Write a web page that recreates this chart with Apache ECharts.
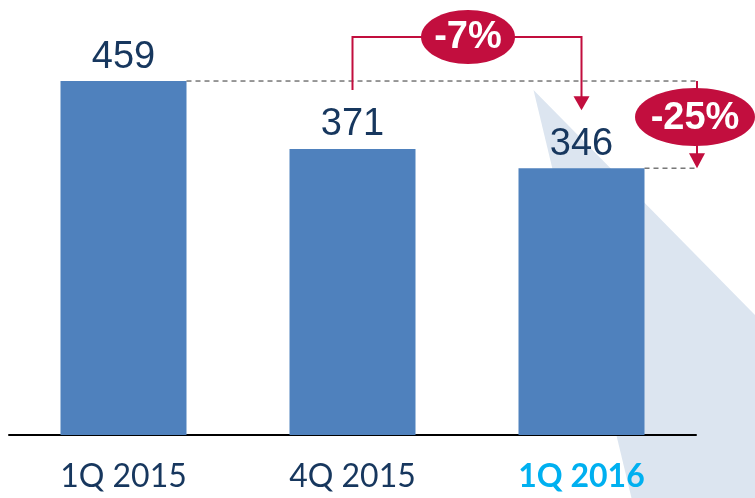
<!DOCTYPE html>
<html><head><meta charset="utf-8">
<script src="https://cdn.jsdelivr.net/npm/echarts@6/dist/echarts.min.js"></script>
<style>html,body{margin:0;padding:0;background:#fff;}#c{width:755px;height:498px;}</style>
</head><body><div id="c"></div>
<script>
const categories = ['1Q 2015', '4Q 2015', '1Q 2016'];
const values = [459, 371, 346];
const changeShort = '-7%';
const changeLong = '-25%';

const navy = '#17375e';
const red = '#c20e3e';
const chart = echarts.init(document.getElementById('c'), null, {renderer: 'canvas'});
chart.setOption({
  animation: false,
  grid: {left: 9, width: 687, top: 49.4, height: 385.6},
  xAxis: {
    type: 'category', data: categories,
    axisLine: {lineStyle: {color: '#000', width: 2}},
    axisTick: {show: false},
    axisLabel: {
      interval: 0, hideOverlap: false,
      margin: 26, fontSize: 32, fontFamily: 'Lato', color: navy,
      formatter: function (v, i) { return i === 2 ? '{hl|' + v + '}' : v; },
      rich: {hl: {fontSize: 32, fontFamily: 'Lato', fontWeight: 'bold', color: '#00b0f0'}}
    }
  },
  yAxis: {type: 'value', min: 0, max: 500, show: false, splitLine: {show: false}},
  series: [{
    type: 'bar', data: values, barWidth: 126, z: 5,
    itemStyle: {color: '#4f81bd'},
    label: {show: true, position: 'top', distance: 5, fontSize: 38,
      fontFamily: '"Liberation Sans", Arial', color: navy}
  }]
});

function px(i, v) { return chart.convertToPixel({seriesIndex: 0}, [i, v]); }
const p0 = px(0, values[0]), p1 = px(1, values[1]), p2 = px(2, values[2]);
const half = 63;
const axisRight = 697;
const W = 755, H = 498;
const bracketY = 37;
const g = [];
// callout background shape
g.push({type: 'polygon', z: -1, shape: {points: [[p2[0] - 48, p0[1] + 9], [W, p0[1] + 234], [W, H], [p2[0] + 50, H]]},
  style: {fill: '#dce5f0'}});
// dashed guides
g.push({type: 'line', z: 10, shape: {x1: p0[0] + half, y1: p0[1], x2: axisRight, y2: p0[1]},
  style: {stroke: '#333', lineWidth: 1, lineDash: [5, 4]}});
g.push({type: 'line', z: 10, shape: {x1: p2[0] + half, y1: p2[1], x2: axisRight, y2: p2[1]},
  style: {stroke: '#333', lineWidth: 1, lineDash: [5, 4]}});
// bracket
const tipY = p2[1] - 58;
g.push({type: 'polyline', z: 10, shape: {points: [[p1[0], p1[1] - 59], [p1[0], bracketY], [p2[0], bracketY], [p2[0], tipY - 12]]},
  style: {stroke: red, lineWidth: 2, fill: null}});
g.push({type: 'polygon', z: 10, shape: {points: [[p2[0] - 8, tipY - 14], [p2[0] + 8, tipY - 14], [p2[0], tipY]]}, style: {fill: red}});
const ex = (p1[0] + p2[0]) / 2 + 1;
g.push({type: 'ellipse', z: 11, shape: {cx: ex, cy: bracketY, rx: 47, ry: 27}, style: {fill: red}});
g.push({type: 'text', z: 12, style: {text: changeShort, x: ex, y: bracketY + 1, align: 'center', verticalAlign: 'middle',
  fill: '#fff', font: 'bold 38px "Liberation Sans", Arial'}});
// vertical arrow
const vx = axisRight;
g.push({type: 'line', z: 10, shape: {x1: vx, y1: p0[1], x2: vx, y2: p2[1] - 12}, style: {stroke: red, lineWidth: 2}});
g.push({type: 'polygon', z: 10, shape: {points: [[vx - 8, p2[1] - 15], [vx + 8, p2[1] - 15], [vx, p2[1]]]}, style: {fill: red}});
const ey = p0[1] + 36;
g.push({type: 'ellipse', z: 11, shape: {cx: vx - 2, cy: ey, rx: 60, ry: 29}, style: {fill: red}});
g.push({type: 'text', z: 12, style: {text: changeLong, x: vx - 2, y: ey + 1, align: 'center', verticalAlign: 'middle',
  fill: '#fff', font: 'bold 38px "Liberation Sans", Arial'}});
chart.setOption({graphic: {elements: g}});
</script></body></html>
